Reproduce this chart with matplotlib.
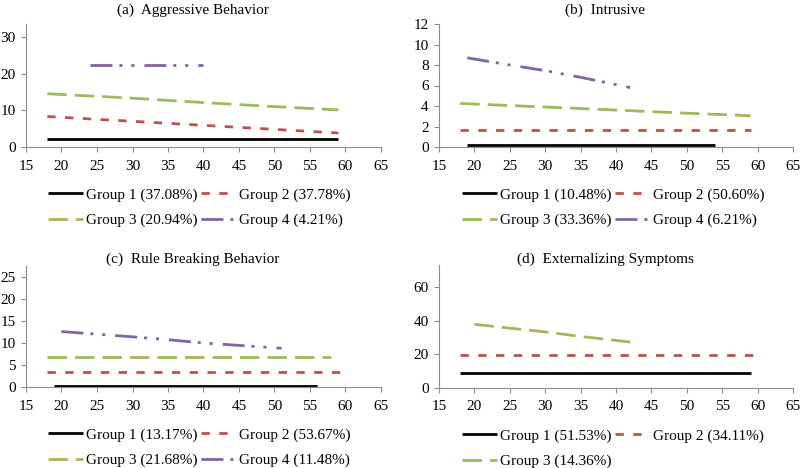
import matplotlib
matplotlib.use("Agg")
import matplotlib.pyplot as plt

plt.rcParams['font.family'] = ['Liberation Serif', 'DejaVu Serif']

# ---- data ----
titles = ["(a)  Aggressive Behavior", "(b)  Intrusive",
          "(c)  Rule Breaking Behavior", "(d)  Externalizing Symptoms"]

# (a) Aggressive Behavior
a_labels = ["Group 1 (37.08%)", "Group 2 (37.78%)", "Group 3 (20.94%)", "Group 4 (4.21%)"]
a_g1_age = [18, 30, 40, 50, 59]; a_g1_val = [2.3, 2.3, 2.3, 2.3, 2.3]
a_g2_age = [18, 30, 40, 50, 59]; a_g2_val = [8.3, 7.0, 5.9, 4.8, 3.8]
a_g3_age = [18, 30, 40, 50, 59]; a_g3_val = [14.5, 13.3, 12.1, 11.0, 10.1]
a_g4_age = [24, 30, 35, 40];     a_g4_val = [22.3, 22.3, 22.3, 22.3]

# (b) Intrusive
b_labels = ["Group 1 (10.48%)", "Group 2 (50.60%)", "Group 3 (33.36%)", "Group 4 (6.21%)"]
b_g1_age = [19, 30, 40, 54];     b_g1_val = [0.2, 0.2, 0.2, 0.2]
b_g2_age = [18, 30, 40, 50, 59]; b_g2_val = [1.7, 1.7, 1.7, 1.7, 1.7]
b_g3_age = [18, 30, 40, 50, 59]; b_g3_val = [4.25, 3.9, 3.6, 3.3, 3.05]
b_g4_age = [19, 25, 30, 35, 42]; b_g4_val = [8.7, 8.0, 7.45, 6.8, 5.8]

# (c) Rule Breaking Behavior
c_labels = ["Group 1 (13.17%)", "Group 2 (53.67%)", "Group 3 (21.68%)", "Group 4 (11.48%)"]
c_g1_age = [19, 30, 40, 56];     c_g1_val = [0.15, 0.15, 0.15, 0.15]
c_g2_age = [18, 30, 40, 50, 60]; c_g2_val = [3.5, 3.5, 3.5, 3.5, 3.5]
c_g3_age = [18, 30, 40, 50, 58]; c_g3_val = [6.8, 6.8, 6.8, 6.8, 6.8]
c_g4_age = [20, 30, 35, 40, 51]; c_g4_val = [12.6, 11.4, 10.75, 10.0, 8.8]

# (d) Externalizing Symptoms
d_labels = ["Group 1 (51.53%)", "Group 2 (34.11%)", "Group 3 (14.36%)"]
d_g1_age = [18, 30, 40, 50, 59]; d_g1_val = [8.8, 8.8, 8.8, 8.8, 8.8]
d_g2_age = [18, 30, 40, 50, 60]; d_g2_val = [19.3, 19.3, 19.3, 19.3, 19.3]
d_g3_age = [20, 25, 30, 35, 43]; d_g3_val = [37.8, 35.5, 33.3, 30.6, 26.8]

x_ticks = [15, 20, 25, 30, 35, 40, 45, 50, 55, 60, 65]
a_yticks = [0, 10, 20, 30]
b_yticks = [0, 2, 4, 6, 8, 10, 12]
c_yticks = [0, 5, 10, 15, 20, 25]
d_yticks = [0, 20, 40, 60]

# ---- styles ----
LW = 2.0
styles = [
    dict(color='black', linestyle='-'),
    dict(color='#C0504D', dashes=(3.0, 3.4)),
    dict(color='#9BBB59', dashes=(7.0, 2.9)),
    dict(color='#8064A2', dashes=(7.9, 2.5, 1.1, 3.2, 1.1, 3.6)),
]

W, H = 800, 468
fig = plt.figure(figsize=(8.0, 4.68), dpi=100)

def fx(px):
    return px / W

def fy(py):
    return 1 - py / H

panels = [
    dict(rect=(26, 381, 147, 24), ylim=(0, 33.5), yticks=a_yticks, labels=a_labels,
         series=[(a_g1_age, a_g1_val), (a_g2_age, a_g2_val), (a_g3_age, a_g3_val), (a_g4_age, a_g4_val)],
         title=titles[0], tpos=(193, 10), lpos=(48, 188)),
    dict(rect=(439, 793, 147, 24), ylim=(0, 12), yticks=b_yticks, labels=b_labels,
         series=[(b_g1_age, b_g1_val), (b_g2_age, b_g2_val), (b_g3_age, b_g3_val), (b_g4_age, b_g4_val)],
         title=titles[1], tpos=(605, 10), lpos=(462, 188)),
    dict(rect=(26, 381, 387, 266), ylim=(0, 27.5), yticks=c_yticks, labels=c_labels,
         series=[(c_g1_age, c_g1_val), (c_g2_age, c_g2_val), (c_g3_age, c_g3_val), (c_g4_age, c_g4_val)],
         title=titles[2], tpos=(193, 259), lpos=(48, 428)),
    dict(rect=(439, 793, 388, 265), ylim=(0, 73), yticks=d_yticks, labels=d_labels,
         series=[(d_g1_age, d_g1_val), (d_g2_age, d_g2_val), (d_g3_age, d_g3_val)],
         title=titles[3], tpos=(605, 259), lpos=(462, 429)),
]

FS = 11
for p in panels:
    l, r, b, t = p['rect']
    ax = fig.add_axes([fx(l), fy(b), fx(r) - fx(l), fy(t) - fy(b)])
    handles = []
    for (age, val), st, lab in zip(p['series'], styles, p['labels']):
        h, = ax.plot(age, val, lw=LW, label=lab, solid_capstyle='butt', **st)
        handles.append(h)
    ax.set_xlim(15, 65)
    ax.set_ylim(*p['ylim'])
    ax.set_xticks(x_ticks)
    ax.set_yticks(p['yticks'])
    for s in ['top', 'right']:
        ax.spines[s].set_visible(False)
    for s in ['left', 'bottom']:
        ax.spines[s].set_color('#8c8c8c')
        ax.spines[s].set_linewidth(0.8)
    ax.tick_params(axis='both', labelsize=FS, color='#8c8c8c', length=3.5, width=0.8,
                   direction='out')
    ax.tick_params(axis='x', pad=5.5)
    ax.tick_params(axis='y', pad=4)
    fig.text(fx(p['tpos'][0]), fy(p['tpos'][1]), p['title'], ha='center', va='center', fontsize=FS)
    # legend: rows filled left-to-right (column-major reorder)
    n = len(handles)
    if n == 4:
        order = [0, 2, 1, 3]
    else:
        order = [0, 2, 1]
    hs = [handles[i] for i in order]
    ls = [p['labels'][i] for i in order]
    fig.legend(hs, ls, loc='upper left', bbox_to_anchor=(fx(p['lpos'][0]), fy(p['lpos'][1])),
               ncol=2, frameon=False, fontsize=FS, borderpad=0, borderaxespad=0,
               handlelength=2.3, handletextpad=0.2, columnspacing=0.2, labelspacing=0.75)

fig.savefig('out.png', dpi=100)
